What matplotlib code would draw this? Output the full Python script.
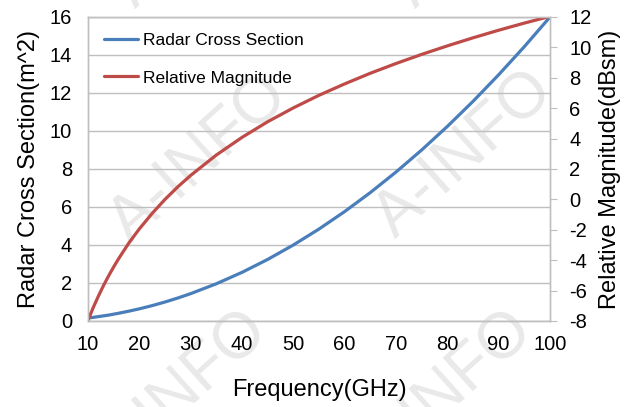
import matplotlib
matplotlib.use("Agg")
import matplotlib.pyplot as plt

freq = [10, 11, 12, 13, 14, 15, 16, 18, 20, 22.5, 25, 27.5, 30, 35, 40, 45, 50,
        55, 60, 65, 70, 75, 80, 85, 90, 95, 100]
rcs = [0.16, 0.19, 0.23, 0.27, 0.31, 0.36, 0.41, 0.52, 0.64, 0.81, 1.00, 1.21,
       1.44, 1.96, 2.56, 3.24, 4.00, 4.84, 5.76, 6.76, 7.84, 9.00, 10.24, 11.56,
       12.96, 14.44, 16.00]
mag = [-7.96, -7.13, -6.38, -5.68, -5.04, -4.44, -3.88, -2.85, -1.94, -0.92, 0.00,
       0.83, 1.58, 2.92, 4.08, 5.11, 6.02, 6.85, 7.60, 8.30, 8.94, 9.54, 10.10,
       10.63, 11.13, 11.60, 12.04]
xticks = [10, 20, 30, 40, 50, 60, 70, 80, 90, 100]
lticks = [0, 2, 4, 6, 8, 10, 12, 14, 16]
rticks = [-8, -6, -4, -2, 0, 2, 4, 6, 8, 10, 12]
watermark = 'A-INFO'

plt.rcParams['font.family'] = ['Liberation Sans', 'DejaVu Sans']
plt.rcParams['axes.unicode_minus'] = False
blue = '#4A7EBB'
red = '#BE4B48'
grid_c = '#BFBFBF'

W, H = 625, 407
fig = plt.figure(figsize=(6.25, 4.07), dpi=100)
ax = fig.add_axes([88 / W, 1 - 321 / H, 462 / W, 304 / H])
ax2 = ax.twinx()
ax.patch.set_visible(False)

l1, = ax.plot(freq, rcs, color=blue, lw=2.3, label='Radar Cross Section',
              solid_capstyle='round')
l2, = ax2.plot(freq, mag, color=red, lw=2.3, label='Relative Magnitude',
               solid_capstyle='round')

ax.set_xlim(10, 100)
ax.set_ylim(0, 16)
ax2.set_ylim(-8, 12)
ax.set_xticks(xticks)
ax.set_yticks(lticks)
ax2.set_yticks(rticks)
ax.grid(axis='y', color=grid_c, lw=1)
ax.set_axisbelow(True)

for a in (ax, ax2):
    for s in a.spines.values():
        s.set_color(grid_c)
        s.set_linewidth(1)
ax.tick_params(axis='x', length=0, labelsize=14.5, pad=10)
ax.tick_params(axis='y', length=0, labelsize=14.5, pad=11.5)
ax2.tick_params(axis='y', length=5, color=grid_c, direction='out',
                labelsize=14.5, pad=9)

ax.set_xlabel('Frequency(GHz)', fontsize=17)
ax.xaxis.set_label_coords(0.5, -0.19)
ax.set_ylabel('Radar Cross Section(m^2)', fontsize=17)
ax.yaxis.set_label_coords(-0.104, 0.5)
ax2.set_ylabel('Relative Magnitude(dBsm)', fontsize=17)
ax2.yaxis.set_label_coords(1.105, 0.5)

ax.legend(handles=[l1, l2], loc='upper left', frameon=False, fontsize=12.5,
          handlelength=2.0, handletextpad=0.25, labelspacing=1.3,
          bbox_to_anchor=(0.0, 1.0), borderaxespad=0.5)

# faint watermark
for (cx, cy) in [(200, 160), (465, 155), (180, 395), (445, 395),
                 (205, -75), (485, -75), (-80, 390)]:
    fig.text(cx / W, 1 - cy / H, watermark, fontsize=46, color='#000000',
             alpha=0.09, rotation=42, ha='center', va='center',
             rotation_mode='anchor', zorder=-1)

fig.savefig('out.png', dpi=100)
